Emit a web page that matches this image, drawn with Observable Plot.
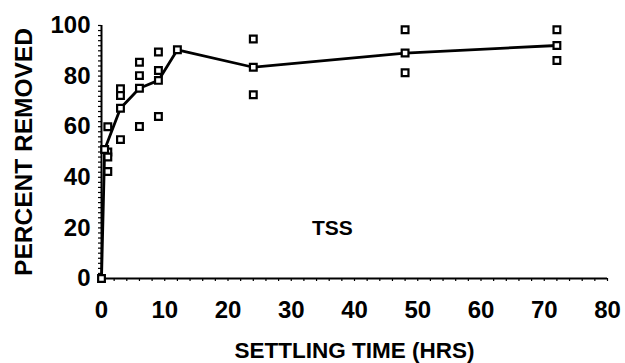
<!DOCTYPE html>
<html>
<head>
<meta charset="utf-8">
<script src="https://cdn.jsdelivr.net/npm/d3@7"></script>
<script src="https://cdn.jsdelivr.net/npm/@observablehq/plot@0.6"></script>
<style>
  html, body { margin: 0; padding: 0; background: #fff; }
  #chart svg { display: block; }
</style>
</head>
<body>
<div id="chart"></div>
<script>
// Mean curve (connected line)
const meanTime = [0, 0.5, 3, 6, 9, 12, 24, 48, 72];
const meanPct  = [0, 51, 67.3, 75.2, 78.3, 90.4, 83.5, 89.1, 92.1];
// Individual observations (open squares)
const obsTime = [1, 1, 1, 1, 3, 3, 3, 6, 6, 6, 9, 9, 9, 24, 24, 48, 48, 72, 72];
const obsPct  = [60, 50, 48, 42.3, 75, 72.3, 54.9, 85.5, 80.2, 60.1, 89.5, 82.2, 64, 94.7, 72.6, 98.3, 81.3, 98.3, 86.2];
// Axis ticks
const xTickLabels = [0, 10, 20, 30, 40, 50, 60, 70, 80];
const yTickLabels = [0, 20, 40, 60, 80, 100];
const xMinorTicks = d3.range(0, 81, 2);
const yMinorTicks = d3.range(0, 101, 2);
const seriesLabel = "TSS";
const xTitle = "SETTLING TIME (HRS)";
const yTitle = "PERCENT REMOVED";

const meanData = meanTime.map((t, i) => ({t, p: meanPct[i]}));
const obsData = obsTime.map((t, i) => ({t, p: obsPct[i]}));

const font = "'Liberation Sans', Arial, sans-serif";

const chart = Plot.plot({
  width: 625,
  height: 363,
  marginLeft: 101,
  marginRight: 18,
  marginTop: 25,
  marginBottom: 85,
  style: {fontFamily: font, fontSize: "24px", fontWeight: "bold", color: "#000", background: "#fff"},
  x: {domain: [0, 80]},
  y: {domain: [0, 100]},
  marks: [
    Plot.axisX({ticks: xMinorTicks, tickSize: 3, tickFormat: () => "", strokeWidth: 1.2, label: null}),
    Plot.axisX({ticks: xTickLabels, tickSize: 0, tickPadding: 22, fontSize: 24, label: null}),
    Plot.axisY({ticks: yMinorTicks, tickSize: 3, tickFormat: () => "", strokeWidth: 1.2, label: null}),
    Plot.axisY({ticks: yTickLabels, tickSize: 0, tickPadding: 11, fontSize: 24, label: null}),
    Plot.ruleX([0], {strokeWidth: 2}),
    Plot.ruleY([0], {strokeWidth: 2}),
    Plot.line(meanData, {x: "t", y: "p", stroke: "#000", strokeWidth: 2.8}),
    Plot.dot(obsData, {x: "t", y: "p", symbol: "square", r: 3.8, stroke: "#000", strokeWidth: 2.2, fill: "#fff"}),
    Plot.dot(meanData, {x: "t", y: "p", symbol: "square", r: 3.8, stroke: "#000", strokeWidth: 2.2, fill: "#fff"}),
    Plot.text([seriesLabel], {x: 36.5, y: 19.8, fontSize: 21, textAnchor: "middle"}),
    Plot.text([xTitle], {frameAnchor: "bottom", dy: 79, fontSize: 22.5}),
    Plot.text([yTitle], {frameAnchor: "left", dx: -77, rotate: -90, textAnchor: "middle", fontSize: 24.5})
  ]
});
document.getElementById("chart").appendChild(chart);
</script>
</body>
</html>
